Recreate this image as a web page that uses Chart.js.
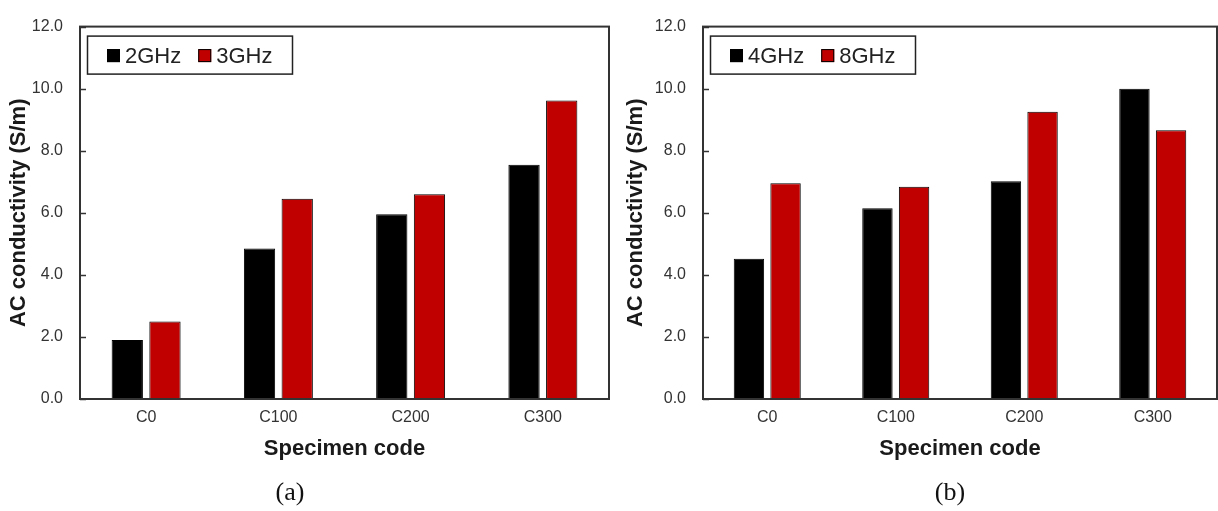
<!DOCTYPE html>
<html lang="en">
<head>
    <meta charset="UTF-8">
    <title>AC conductivity by specimen</title>
    <script src="https://cdn.jsdelivr.net/npm/chart.js"></script>
    <style>
        body { margin: 0; background: #fff; width: 1218px; height: 511px; overflow: hidden; }
        .panel { position: absolute; top: 0; }
        #panelA { left: 0; }
        #panelB { left: 614px; }
    </style>
</head>
<body>
    <div class="panel" id="panelA"><canvas id="chartA" width="614" height="511"></canvas></div>
    <div class="panel" id="panelB"><canvas id="chartB" width="604" height="511"></canvas></div>

    <script>
        // values
        const specimens = ['C0', 'C100', 'C200', 'C300'];
        const ac2GHz = [1.90, 4.85, 5.95, 7.55];
        const ac3GHz = [2.50, 6.45, 6.60, 9.62];
        const ac4GHz = [4.52, 6.15, 7.02, 10.0];
        const ac8GHz = [6.95, 6.84, 9.26, 8.66];

        const BLACK = '#000000';
        const RED = '#C00000';
        const SANS = '"Liberation Sans", Arial, sans-serif';

        // frame around plot, short inward ticks on y, boxed legend, panel letter
        const decorations = {
            id: 'decorations',
            afterDraw(chart, args, opts) {
                const { ctx, chartArea: a } = chart;
                const y = chart.scales.y;
                ctx.save();

                ctx.strokeStyle = '#333';
                ctx.lineWidth = 1.5;
                y.ticks.forEach(t => {
                    const py = Math.round(y.getPixelForValue(t.value)) + 0.5;
                    ctx.beginPath();
                    ctx.moveTo(a.left, py);
                    ctx.lineTo(a.left + 6, py);
                    ctx.stroke();
                });
                ctx.lineWidth = 2;
                ctx.strokeRect(a.left, a.top, a.right - a.left, a.bottom - a.top);

                // legend box
                const bx = a.left + 7.5, by = a.top + 9.5;
                ctx.fillStyle = '#fff';
                ctx.fillRect(bx, by, 205, 38);
                ctx.lineWidth = 1.5;
                ctx.strokeStyle = '#222';
                ctx.strokeRect(bx, by, 205, 38);
                ctx.font = '22px ' + SANS;
                ctx.textBaseline = 'middle';
                let x = a.left + 27;
                const cy = a.top + 29;
                chart.data.datasets.forEach(ds => {
                    ctx.fillStyle = ds.backgroundColor;
                    ctx.fillRect(x, cy - 6.5, 13, 13);
                    ctx.lineWidth = 1;
                    ctx.strokeStyle = '#000';
                    ctx.strokeRect(x + 0.5, cy - 6, 12, 12);
                    ctx.fillStyle = '#222';
                    ctx.fillText(ds.label, x + 18, cy + 1);
                    x += 18 + ctx.measureText(ds.label).width + 17;
                });

                ctx.font = '26px "Liberation Serif", "Times New Roman", serif';
                ctx.fillStyle = '#111';
                ctx.textAlign = 'center';
                ctx.fillText(opts.label, opts.labelX, 493);
                ctx.restore();
            }
        };

        function makeChart(id, labels, seriesA, seriesB, yAxisWidth, padRight, titleLeft, panel, panelX) {
            return new Chart(document.getElementById(id), {
                type: 'bar',
                data: {
                    labels: specimens,
                    datasets: [
                        { label: labels[0], data: seriesA, backgroundColor: BLACK, borderColor: '#000', borderWidth: 1 },
                        { label: labels[1], data: seriesB, backgroundColor: RED, borderColor: '#000', borderWidth: 1 }
                    ]
                },
                options: {
                    responsive: false,
                    animation: false,
                    datasets: { bar: { categoryPercentage: 0.57, barPercentage: 0.83 } },
                    layout: { padding: { top: 16, right: padRight, bottom: 0, left: 0 } },
                    plugins: {
                        legend: { display: false },
                        tooltip: { enabled: false },
                        decorations: { label: panel, labelX: panelX }
                    },
                    scales: {
                        x: {
                            grid: { display: false, drawTicks: false },
                            border: { display: false },
                            ticks: { color: '#333', font: { family: SANS, size: 16 }, padding: 9 },
                            title: {
                                display: true, text: 'Specimen code', color: '#1a1a1a',
                                font: { family: SANS, size: 22, weight: 'bold' },
                                padding: { top: 0, bottom: 49 }
                            },
                            afterFit(scale) { scale.height = 112; }
                        },
                        y: {
                            min: 0, max: 12,
                            grid: { display: false, drawTicks: false },
                            border: { display: false },
                            ticks: {
                                stepSize: 2, color: '#333', padding: 17,
                                font: { family: SANS, size: 16 },
                                callback: v => v.toFixed(1)
                            },
                            title: {
                                display: true, text: 'AC conductivity (S/m)', color: '#1a1a1a',
                                font: { family: SANS, size: 22, weight: 'bold' },
                                padding: { top: titleLeft, bottom: 0 }
                            },
                            afterFit(scale) { scale.width = yAxisWidth; }
                        }
                    }
                },
                plugins: [decorations]
            });
        }

        makeChart('chartA', ['2GHz', '3GHz'], ac2GHz, ac3GHz, 80, 5, 6, '(a)', 290);
        makeChart('chartB', ['4GHz', '8GHz'], ac4GHz, ac8GHz, 89, 1, 9, '(b)', 336);
    </script>
</body>
</html>
